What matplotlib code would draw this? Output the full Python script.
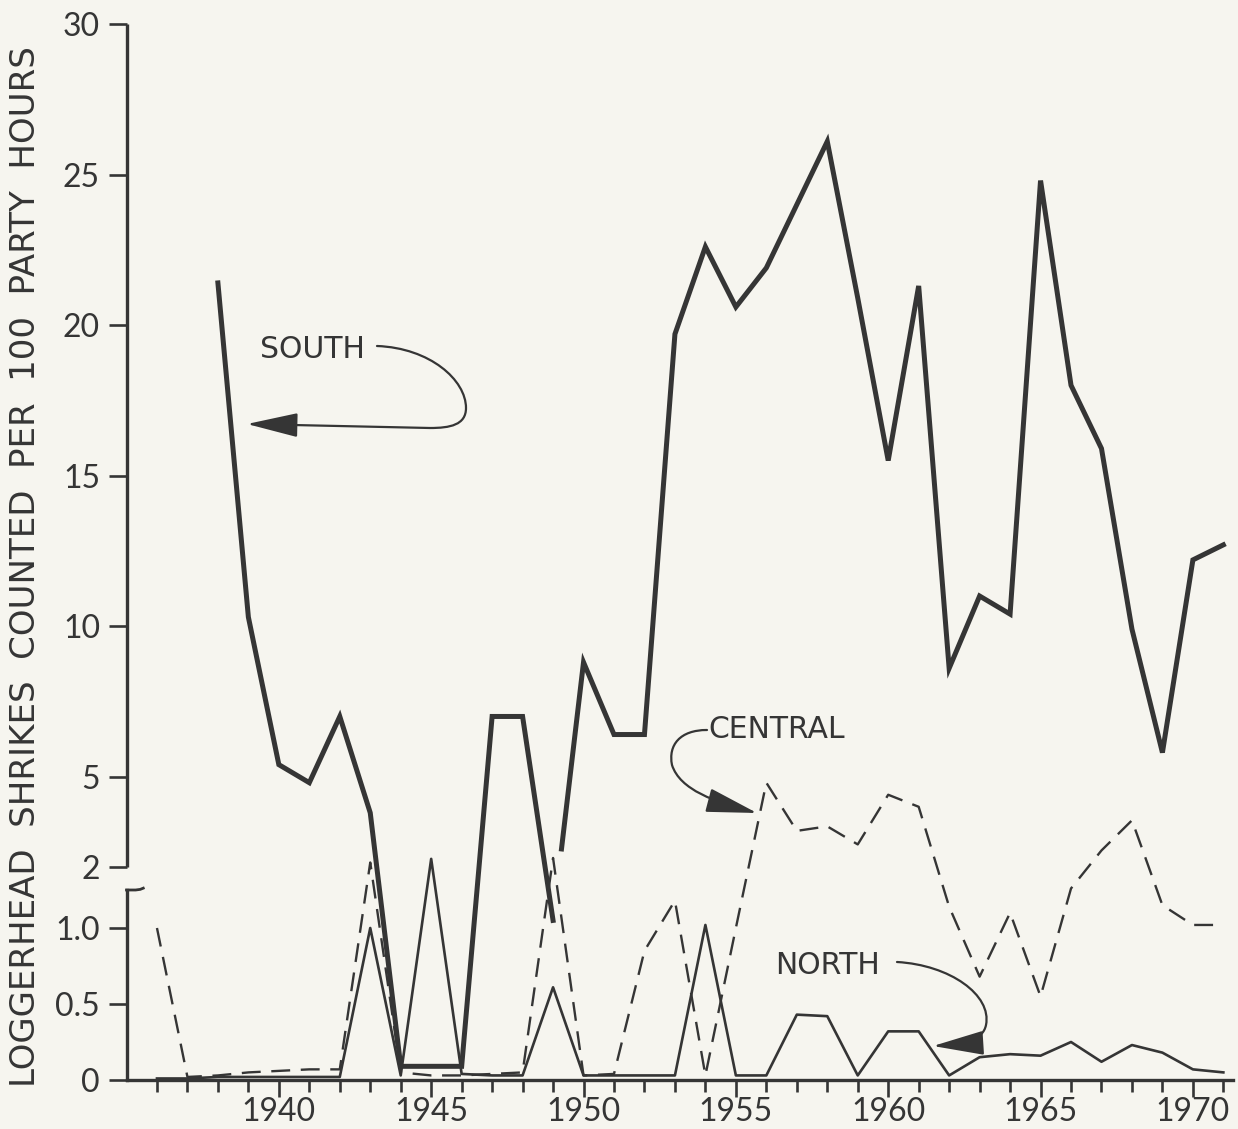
import numpy as np
import matplotlib
matplotlib.use("Agg")
import matplotlib.pyplot as plt
from matplotlib.path import Path
from matplotlib.patches import FancyArrowPatch

# ---------------------------------------------------------------------------
# data (shrikes counted per 100 party hours, Christmas counts)
# ---------------------------------------------------------------------------
south_years = [1938, 1939, 1940, 1941, 1942, 1943, 1944, 1945, 1946, 1947, 1948, 1949]
south_vals = [21.4, 10.3, 5.4, 4.8, 7.0, 3.8, 0.09, 0.09, 0.09, 7.0, 7.0, 1.05]
south_years_2 = [1950, 1951, 1952, 1953, 1954, 1955, 1956, 1957, 1958, 1959, 1960,
                 1961, 1962, 1963, 1964, 1965, 1966, 1967, 1968, 1969, 1970, 1971]
south_vals_2 = [8.8, 6.4, 6.4, 19.7, 22.6, 20.6, 21.9, 24.0, 26.1, 20.9, 15.5,
                21.3, 8.6, 11.0, 10.4, 24.8, 18.0, 15.9, 9.9, 5.8, 12.2, 12.7]
south_resume = 2.6   # level at which the 1949-50 stroke picks up again

central_years = list(range(1936, 1972))
central_vals = [1.0, 0.02, 0.03, 0.05, 0.06, 0.07, 0.07, 2.15, 0.05, 0.03,
                0.03, 0.04, 0.05, 2.3, 0.03, 0.04, 0.85, 1.18, 0.03, 1.0,
                4.8, 3.2, 3.35, 2.75, 4.4, 4.0, 1.14, 0.68, 1.1, 0.55,
                1.3, 2.55, 3.55, 1.15, 1.02, 1.02]

north_years = list(range(1936, 1972))
north_vals = [0.01, 0.01, 0.02, 0.02, 0.02, 0.02, 0.02, 1.0, 0.03, 2.27,
              0.04, 0.03, 0.03, 0.61, 0.03, 0.03, 0.03, 0.03, 1.02, 0.03,
              0.03, 0.43, 0.42, 0.03, 0.32, 0.32, 0.03, 0.15, 0.17, 0.16,
              0.25, 0.12, 0.23, 0.18, 0.07, 0.05]

y_ticks = [0, 0.5, 1.0, 2, 5, 10, 15, 20, 25, 30]
y_tick_labels = ["0", "0.5", "1.0", "2", "5", "10", "15", "20", "25", "30"]
x_major = [1940, 1945, 1950, 1955, 1960, 1965, 1970]

# broken axis: 0-1.25 stretched, 2-30 compressed
Y_KNOTS = [0.0, 1.25, 2.0, 30.0]
P_KNOTS = [0.0, 190.0, 213.0, 1056.0]
BREAK_LOW = 1.25
BREAK_HIGH = 2.0

INK = "#353535"
PAPER = "#f6f5ef"
W, H = 1238, 1129
TEXT_FONT = ['DejaVu Sans']


def _pw(v, xs, ys):
    v = np.asarray(v, dtype=float)
    shape = v.shape
    v = np.atleast_1d(v)
    out = np.interp(v, xs, ys)
    lo = v < xs[0]
    hi = v > xs[-1]
    out[lo] = ys[0] + (v[lo] - xs[0]) * (ys[1] - ys[0]) / (xs[1] - xs[0])
    out[hi] = ys[-1] + (v[hi] - xs[-1]) * (ys[-1] - ys[-2]) / (xs[-1] - xs[-2])
    return out.reshape(shape)


def fwd(v):
    return _pw(v, Y_KNOTS, P_KNOTS)


def inv(v):
    return _pw(v, P_KNOTS, Y_KNOTS)


def px(x, y):
    """reference pixel -> figure fraction"""
    return (x / W, 1 - y / H)


plt.rcParams['font.family'] = ['Lato', 'DejaVu Sans']

fig = plt.figure(figsize=(W / 100, H / 100), dpi=100, facecolor=PAPER)
ax = fig.add_axes([126.5 / W, (H - 1080) / H, 1106 / W, 1056 / H])
ax.set_facecolor(PAPER)
ax.set_yscale('function', functions=(fwd, inv))
ax.set_xlim(1935, 1971.3)
ax.set_ylim(0, 30)

# series
ax.plot(south_years, south_vals, color=INK, lw=3.6, solid_joinstyle='miter',
        clip_on=False, zorder=3)
t0, t1, tg = fwd(south_vals[-1]), fwd(south_vals_2[0]), fwd(south_resume)
x_resume = south_years[-1] + (tg - t0) / (t1 - t0) * (south_years_2[0] - south_years[-1])
ax.plot([x_resume] + south_years_2, [south_resume] + south_vals_2, color=INK,
        lw=3.6, solid_joinstyle='miter', clip_on=False, zorder=3)

ax.plot(central_years, central_vals, color=INK, lw=1.7, dashes=(8, 4.5),
        clip_on=False, zorder=2)
ax.plot(north_years, north_vals, color=INK, lw=1.9, clip_on=False, zorder=2)

# axes
for s in ['top', 'right', 'left']:
    ax.spines[s].set_visible(False)
ax.spines['bottom'].set_linewidth(2.4)
ax.spines['bottom'].set_color(INK)
ax.spines['bottom'].set_zorder(4)
x0 = ax.get_xlim()[0]
ax.plot([x0, x0], [0, BREAK_LOW], color=INK, lw=2.4, clip_on=False, zorder=4)
ax.plot([x0, x0], [BREAK_HIGH, 30], color=INK, lw=2.4, clip_on=False, zorder=4,
        solid_capstyle='butt')
ax.plot([x0, x0 + 0.3, x0 + 0.45, x0 + 0.55], [BREAK_LOW, BREAK_LOW, 1.27, 1.31],
        color=INK, lw=2.0, clip_on=False, zorder=4)

ax.set_yticks(y_ticks)
ax.set_yticklabels(y_tick_labels)
ax.set_xticks(x_major)
ax.set_xticklabels([str(x) for x in x_major])
ax.set_xticks([y for y in range(1936, 1972) if y not in x_major], minor=True)
ax.tick_params(axis='y', direction='out', length=13, width=1.9, color=INK,
               labelsize=23, labelcolor=INK, pad=6)
ax.tick_params(axis='x', which='major', direction='out', length=12.5, width=1.9,
               color=INK, labelsize=23, labelcolor=INK, pad=0)
ax.tick_params(axis='x', which='minor', direction='out', length=8.5, width=1.9,
               color=INK)

fig.text(*px(26, 567), "LOGGERHEAD  SHRIKES  COUNTED  PER  100  PARTY  HOURS",
         rotation=90, ha='center', va='center', fontsize=24.5, color=INK,
         family=TEXT_FONT)

# labels with curved arrows
fig.text(*px(312, 349), "SOUTH", ha='center', va='center', fontsize=21.5,
         color=INK, family=TEXT_FONT)
fig.text(*px(708, 729), "CENTRAL", ha='left', va='center', fontsize=21.5,
         color=INK, family=TEXT_FONT)
fig.text(*px(828, 965), "NORTH", ha='center', va='center', fontsize=21.5,
         color=INK, family=TEXT_FONT)

C = Path.CURVE4
arrows = [
    ([(377, 346), (430, 348), (466, 380), (466, 408),
      (466, 425), (450, 428), (430, 428), (247, 424)],
     [Path.MOVETO, C, C, C, C, C, C, Path.LINETO]),
    ([(707, 730), (680, 730), (668, 745), (672, 765),
      (680, 790), (715, 802), (757, 813)],
     [Path.MOVETO, C, C, C, C, C, C]),
    ([(897, 962), (950, 965), (992, 995), (986, 1025),
      (983, 1040), (965, 1044), (933, 1046)],
     [Path.MOVETO, C, C, C, C, C, C]),
]
for verts, codes in arrows:
    path = Path([px(*v) for v in verts], codes)
    arr = FancyArrowPatch(path=path, arrowstyle='-|>,head_length=1.6,head_width=0.38',
                          mutation_scale=20, color=INK, lw=1.6,
                          transform=fig.transFigure)
    fig.add_artist(arr)

fig.savefig("out.png", dpi=100, facecolor=PAPER)
